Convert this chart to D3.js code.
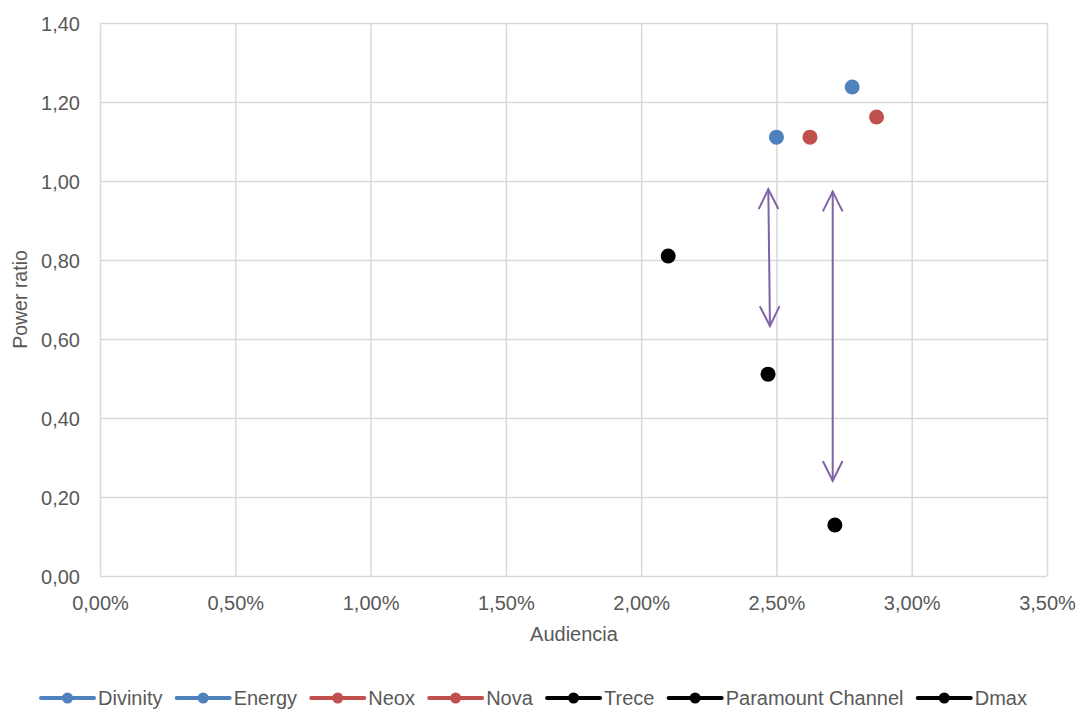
<!DOCTYPE html>
<html><head><meta charset="utf-8">
<script src="https://cdn.jsdelivr.net/npm/d3@7"></script>
<style>body{margin:0;background:#fff}svg{display:block;font-family:"Liberation Sans",Arial,sans-serif}</style>
</head><body><div id="chart"></div>
<script>
const seriesNames = ["Divinity","Energy","Neox","Nova","Trece","Paramount Channel","Dmax"];
const seriesColors = ["#4F81BD","#4F81BD","#C0504D","#C0504D","#000000","#000000","#000000"];
const audiencia = [0.0250,0.0278,0.02624,0.0287,0.0210,0.02469,0.02716];
const powerRatio = [1.111,1.238,1.111,1.162,0.810,0.511,0.129];
const xTicks = [0,0.005,0.01,0.015,0.02,0.025,0.03,0.035];
const yTicks = [0,0.2,0.4,0.6,0.8,1.0,1.2,1.4];
const arrowsFrom = [[0.02470,0.979],[0.02708,0.973]];
const arrowsTo = [[0.02476,0.633],[0.02708,0.241]];

const W=1080,H=709;
const svg=d3.select("#chart").append("svg").attr("width",W).attr("height",H);
const x=d3.scaleLinear().domain([0,0.035]).range([100,1047]);
const y=d3.scaleLinear().domain([0,1.4]).range([576,23]);
const fmtX=v=>(v*100).toFixed(2).replace(".",",")+"%";
const fmtY=v=>v.toFixed(2).replace(".",",");
const grid="#d9d9d9", txt="#595959", FF="Liberation Sans, Arial, sans-serif";

// grid
const xg=svg.append("g").attr("transform","translate(0,23)")
  .call(d3.axisBottom(x).tickValues(xTicks).tickSize(553).tickFormat(""));
const yg=svg.append("g").attr("transform","translate(100,0)")
  .call(d3.axisLeft(y).tickValues(yTicks).tickSize(-947).tickFormat(""));
[xg,yg].forEach(g=>{g.select(".domain").remove();g.selectAll("line").attr("stroke",grid).attr("stroke-width",1.5);});

// axes labels
const xa=svg.append("g").attr("transform","translate(0,576)")
  .call(d3.axisBottom(x).tickValues(xTicks).tickSize(0).tickFormat(fmtX));
xa.select(".domain").remove();
xa.selectAll("text").attr("y",34).attr("dy",0).attr("fill",txt).attr("font-size",20).attr("font-family",FF);
const ya=svg.append("g").attr("transform","translate(100,0)")
  .call(d3.axisLeft(y).tickValues(yTicks).tickSize(0).tickPadding(20).tickFormat(fmtY));
ya.select(".domain").remove();
ya.selectAll("text").attr("dy","0.35em").attr("fill",txt).attr("font-size",20).attr("font-family",FF);

svg.append("text").attr("x",574).attr("y",641).attr("text-anchor","middle")
  .attr("fill",txt).attr("font-size",20).attr("font-family",FF).text("Audiencia");
svg.append("text").attr("transform","translate(27,299.5) rotate(-90)").attr("text-anchor","middle")
  .attr("fill",txt).attr("font-size",19.5).attr("font-family",FF).text("Power ratio");

// arrows
const purple="#7F63A8";
const ag=svg.append("g").attr("stroke",purple).attr("stroke-width",2).attr("fill","none").attr("stroke-linecap","round");
arrowsFrom.forEach((f,i)=>{
  const t=arrowsTo[i];
  const x1=x(f[0]),y1=y(f[1]),x2=x(t[0]),y2=y(t[1]);
  ag.append("line").attr("x1",x1).attr("y1",y1).attr("x2",x2).attr("y2",y2);
  const head=(px,py,qx,qy)=>{
    const dx=px-qx,dy=py-qy,L=Math.hypot(dx,dy),ux=dx/L,uy=dy/L;
    const len=19,hw=9.5;
    const bx=px-ux*len,by=py-uy*len;
    return `M${bx-uy*hw},${by+ux*hw}L${px},${py}L${bx+uy*hw},${by-ux*hw}`;
  };
  ag.append("path").attr("d",head(x1,y1,x2,y2));
  ag.append("path").attr("d",head(x2,y2,x1,y1));
});

// points
svg.append("g").selectAll("circle").data(seriesNames).join("circle")
  .attr("cx",(d,i)=>x(audiencia[i])).attr("cy",(d,i)=>y(powerRatio[i]))
  .attr("r",7.5).attr("fill",(d,i)=>seriesColors[i]);

// legend: spread items from left 41 to right 1027
const lg=svg.append("g");
const ly=698, lineLen=53, txtOff=4, startX=41, endX=1027;
const items=seriesNames.map((n,i)=>{
  const g=lg.append("g");
  g.append("line").attr("x1",0).attr("x2",lineLen).attr("y1",ly).attr("y2",ly)
    .attr("stroke",seriesColors[i]).attr("stroke-width",4).attr("stroke-linecap","round");
  g.append("circle").attr("cx",lineLen/2).attr("cy",ly).attr("r",5.5).attr("fill",seriesColors[i]);
  const t=g.append("text").attr("x",lineLen+txtOff).attr("y",ly+7).attr("fill",txt).attr("font-size",20).attr("font-family",FF).text(n);
  return {g,w:lineLen+txtOff+t.node().getComputedTextLength()};
});
const totalW=d3.sum(items,d=>d.w);
const gap=(endX-startX-totalW)/(items.length-1);
let cx=startX;
items.forEach(it=>{it.g.attr("transform",`translate(${cx},0)`);cx+=it.w+gap;});
</script></body></html>
